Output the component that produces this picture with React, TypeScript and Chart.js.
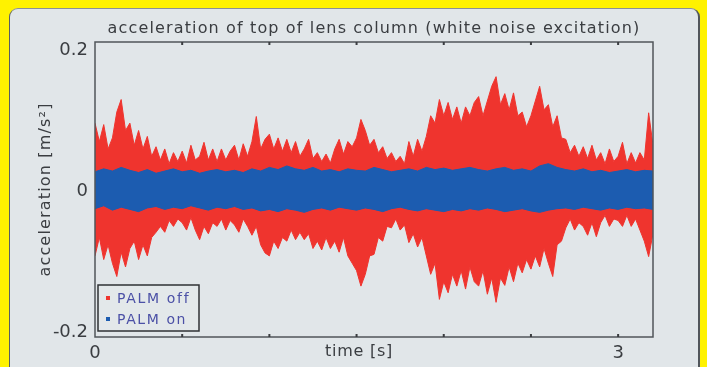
import React, { useEffect, useRef } from 'react';
import { Chart, registerables } from 'chart.js';

Chart.register(...registerables);

const TITLE = 'acceleration of top of lens column (white noise excitation)';
const X_TITLE = 'time [s]';
const Y_TITLE = 'acceleration [m/s²]';
const LEGEND_LABELS = ['PALM off', 'PALM on'];
const X_LABELED_TICKS = [0, 3];
const Y_TICKS = [0.2, 0, -0.2];
const Y_TICK_LABELS = ['0.2', '0', '-0.2'];

// envelope of the "PALM off" signal, sampled every RED_STEP seconds
const RED_STEP = 0.025;
const redUpper = [
  0.09, 0.065, 0.088, 0.055,
  0.07, 0.105, 0.122, 0.08,
  0.09, 0.06, 0.08, 0.055,
  0.072, 0.045, 0.058, 0.04,
  0.055, 0.035, 0.05, 0.038,
  0.052, 0.036, 0.06, 0.04,
  0.045, 0.064, 0.04, 0.055,
  0.038, 0.055, 0.04, 0.052,
  0.06, 0.04, 0.062, 0.045,
  0.065, 0.099, 0.055, 0.068,
  0.075, 0.055, 0.07, 0.052,
  0.068, 0.05, 0.065, 0.045,
  0.055, 0.068, 0.042, 0.05,
  0.038, 0.048, 0.036, 0.055,
  0.068, 0.048, 0.065, 0.058,
  0.07, 0.095, 0.08, 0.06,
  0.068, 0.05, 0.058, 0.042,
  0.05, 0.038, 0.045, 0.035,
  0.065, 0.045, 0.068, 0.052,
  0.072, 0.1, 0.09, 0.122,
  0.1, 0.118, 0.095, 0.112,
  0.09, 0.112, 0.1, 0.118,
  0.126, 0.1, 0.12, 0.14,
  0.153, 0.115, 0.13, 0.108,
  0.131, 0.1, 0.105, 0.085,
  0.1, 0.12, 0.14, 0.108,
  0.115, 0.085, 0.1, 0.07,
  0.068, 0.05, 0.06, 0.045,
  0.058, 0.042, 0.06, 0.04,
  0.05, 0.035, 0.055, 0.038,
  0.045, 0.064, 0.035, 0.05,
  0.036, 0.05, 0.04, 0.104,
  0.06,
];
const redLower = [
  -0.09, -0.065, -0.095, -0.075,
  -0.1, -0.118, -0.085, -0.105,
  -0.08, -0.07, -0.095, -0.075,
  -0.09, -0.065, -0.058, -0.05,
  -0.058, -0.042, -0.05, -0.04,
  -0.045, -0.055, -0.038, -0.055,
  -0.068, -0.05, -0.06, -0.045,
  -0.05, -0.04, -0.055, -0.042,
  -0.048, -0.058, -0.04, -0.05,
  -0.062, -0.05, -0.075, -0.086,
  -0.09, -0.07, -0.08, -0.065,
  -0.07, -0.055, -0.068, -0.058,
  -0.068, -0.06, -0.08, -0.07,
  -0.082, -0.065, -0.08, -0.07,
  -0.085, -0.065, -0.09, -0.1,
  -0.11, -0.131, -0.115, -0.09,
  -0.088, -0.065, -0.07, -0.05,
  -0.052, -0.04, -0.055, -0.048,
  -0.072, -0.06, -0.078, -0.065,
  -0.09, -0.115, -0.1, -0.149,
  -0.125, -0.14, -0.115, -0.131,
  -0.11, -0.135, -0.105, -0.125,
  -0.131, -0.11, -0.142, -0.12,
  -0.153, -0.12, -0.13, -0.105,
  -0.125, -0.1, -0.113, -0.095,
  -0.108, -0.09, -0.105, -0.08,
  -0.1, -0.118, -0.075, -0.07,
  -0.052, -0.04, -0.055, -0.045,
  -0.05, -0.062, -0.045, -0.064,
  -0.045, -0.035, -0.05, -0.04,
  -0.042, -0.05, -0.035, -0.05,
  -0.04, -0.055, -0.07, -0.091,
  -0.06,
];

// envelope of the "PALM on" signal, sampled every BLUE_STEP seconds
const BLUE_STEP = 0.05;
const blueUpper = [
  0.024, 0.028, 0.025, 0.03, 0.026, 0.023, 0.027, 0.022, 0.025, 0.028,
  0.024, 0.026, 0.022, 0.025, 0.027, 0.024, 0.026, 0.023, 0.028, 0.025,
  0.03, 0.027, 0.032, 0.028, 0.026, 0.03, 0.025, 0.027, 0.024, 0.028,
  0.026, 0.025, 0.03, 0.027, 0.024, 0.026, 0.028, 0.025, 0.03, 0.027,
  0.029, 0.026, 0.028, 0.03, 0.027, 0.025, 0.028, 0.03, 0.026, 0.028,
  0.025, 0.032, 0.035, 0.03, 0.027, 0.025, 0.028, 0.024, 0.026, 0.023,
  0.025, 0.027, 0.024, 0.026, 0.025,
];
const blueLower = [
  -0.026, -0.022, -0.028, -0.024, -0.027, -0.03, -0.025, -0.023, -0.027, -0.024,
  -0.026, -0.022, -0.025, -0.028, -0.024, -0.026, -0.023, -0.027, -0.025, -0.029,
  -0.027, -0.03, -0.026, -0.028, -0.031, -0.027, -0.025, -0.028, -0.024, -0.026,
  -0.028, -0.025, -0.027, -0.03, -0.026, -0.024, -0.027, -0.029, -0.026, -0.028,
  -0.03, -0.027, -0.029, -0.026, -0.028, -0.025, -0.027, -0.03, -0.028, -0.026,
  -0.029, -0.031, -0.028, -0.026, -0.025, -0.027, -0.024, -0.026, -0.028, -0.025,
  -0.027, -0.024, -0.026, -0.025, -0.027,
];

const RED = '#ef342e';
const BLUE = '#1c5cb0';
const TEXT = '#3a3d41';
const FONT = '"DejaVu Sans", sans-serif';

const toPoints = (vals: number[], step: number) => vals.map((v, i) => ({ x: +(i * step).toFixed(4), y: v }));

function fitSpacing(ctx: CanvasRenderingContext2D, text: string, target: number) {
  (ctx as any).letterSpacing = '0px';
  const w = ctx.measureText(text).width;
  const ls = (target - w) / text.length;
  (ctx as any).letterSpacing = ls.toFixed(2) + 'px';
}

const decor = {
  id: 'decor',
  afterDraw(chart: any) {
    const { ctx, chartArea: a, scales } = chart;
    const xs = scales.x;
    const ys = scales.y;
    ctx.save();
    // frame
    ctx.strokeStyle = '#50555a';
    ctx.lineWidth = 1.5;
    ctx.strokeRect(a.left, a.top, a.right - a.left, a.bottom - a.top);
    // inward x ticks top & bottom
    ctx.lineWidth = 2;
    ctx.strokeStyle = '#3a3d40';
    xs.ticks.forEach((t: any) => {
      const px = xs.getPixelForValue(t.value);
      if (px <= a.left + 1 || px >= a.right - 1) return;
      ctx.beginPath();
      ctx.moveTo(px, a.bottom);
      ctx.lineTo(px, a.bottom - 3);
      ctx.moveTo(px, a.top);
      ctx.lineTo(px, a.top + 3);
      ctx.stroke();
    });
    // y tick labels
    ctx.fillStyle = TEXT;
    ctx.font = `18px ${FONT}`;
    ctx.textAlign = 'right';
    ctx.textBaseline = 'alphabetic';
    Y_TICKS.forEach((v, i) => {
      const py = ys.getPixelForValue(v);
      let by = py + 6.5;
      if (v === ys.max) by = py + 13;
      if (v === ys.min) by = py;
      ctx.fillText(Y_TICK_LABELS[i], a.left - 7, by);
    });
    // title
    ctx.font = `16px ${FONT}`;
    ctx.textAlign = 'center';
    fitSpacing(ctx, TITLE, 533);
    ctx.fillText(TITLE, (a.left + a.right) / 2, 33);
    // x title
    fitSpacing(ctx, X_TITLE, 68);
    ctx.fillText(X_TITLE, 359, 356);
    // y title
    fitSpacing(ctx, Y_TITLE, 174);
    ctx.save();
    ctx.translate(50, (a.top + a.bottom) / 2);
    ctx.rotate(-Math.PI / 2);
    ctx.fillText(Y_TITLE, 0, 0);
    ctx.restore();
    // legend
    const lx = a.left + 3;
    const ly = a.bottom - 52;
    ctx.fillStyle = '#e3e8ea';
    ctx.fillRect(lx, ly, 101, 46);
    ctx.strokeStyle = '#2f3235';
    ctx.lineWidth = 1.5;
    ctx.strokeRect(lx, ly, 101, 46);
    const colors = [RED, BLUE];
    ctx.textAlign = 'left';
    ctx.font = `14px ${FONT}`;
    LEGEND_LABELS.forEach((lab, i) => {
      const cy = ly + 13 + i * 21;
      ctx.fillStyle = colors[i];
      ctx.fillRect(lx + 8, cy - 2, 4, 4);
      ctx.fillStyle = '#4b50a6';
      fitSpacing(ctx, lab, i === 0 ? 73 : 70);
      ctx.fillText(lab, lx + 19, cy + 5);
    });
    ctx.restore();
  },
};

export default function App() {
  const ref = useRef<HTMLCanvasElement | null>(null);
  useEffect(() => {
    if (!ref.current) return;
    const chart = new Chart(ref.current, {
      type: 'line',
      data: {
        datasets: [
          { label: LEGEND_LABELS[0], data: toPoints(redUpper, RED_STEP), borderColor: RED, backgroundColor: RED, borderWidth: 1, pointRadius: 0, tension: 0, fill: '+1', order: 2 },
          { label: LEGEND_LABELS[0] + ' lower', data: toPoints(redLower, RED_STEP), borderColor: RED, backgroundColor: RED, borderWidth: 1, pointRadius: 0, tension: 0, fill: false, order: 2 },
          { label: LEGEND_LABELS[1], data: toPoints(blueUpper, BLUE_STEP), borderColor: BLUE, backgroundColor: BLUE, borderWidth: 1, pointRadius: 0, tension: 0, fill: '+1', order: 1 },
          { label: LEGEND_LABELS[1] + ' lower', data: toPoints(blueLower, BLUE_STEP), borderColor: BLUE, backgroundColor: BLUE, borderWidth: 1, pointRadius: 0, tension: 0, fill: false, order: 1 },
        ],
      },
      options: {
        animation: false,
        responsive: false,
        events: [],
        layout: { padding: { left: 0, top: 42, right: 54, bottom: 0 } },
        plugins: { legend: { display: false }, tooltip: { enabled: false }, title: { display: false } },
        scales: {
          x: {
            type: 'linear',
            min: 0,
            max: 3.2,
            border: { display: false },
            grid: { display: false, drawTicks: false },
            ticks: {
              stepSize: 0.5,
              includeBounds: false,
              autoSkip: false,
              maxRotation: 0,
              padding: 6,
              color: TEXT,
              font: { family: FONT, size: 18 },
              callback: (v: any) => (X_LABELED_TICKS.includes(Number(v)) ? String(v) : ''),
            },
            afterFit: (s: any) => { s.height = 30; },
          },
          y: {
            min: -0.2,
            max: 0.2,
            border: { display: false },
            grid: { display: false, drawTicks: false },
            ticks: { display: false, stepSize: 0.1 },
            afterFit: (s: any) => { s.width = 95; },
          },
        },
      },
      plugins: [decor],
    } as any);
    return () => chart.destroy();
  }, []);

  return (
    <div style={{ position: 'fixed', left: 0, top: 0, width: 707, height: 367, background: '#fff200', overflow: 'hidden' }}>
      <div
        style={{
          position: 'absolute', left: 9, top: 8, width: 691, height: 380, boxSizing: 'border-box',
          background: '#e1e6e9', borderTop: '1px solid #8a9096', borderLeft: '1px solid #5a5f64',
          borderRight: '2px solid #51565b', borderRadius: 9,
        }}
      />
      <canvas ref={ref} width={707} height={367} style={{ position: 'absolute', left: 0, top: 0, width: 707, height: 367 }} />
    </div>
  );
}
